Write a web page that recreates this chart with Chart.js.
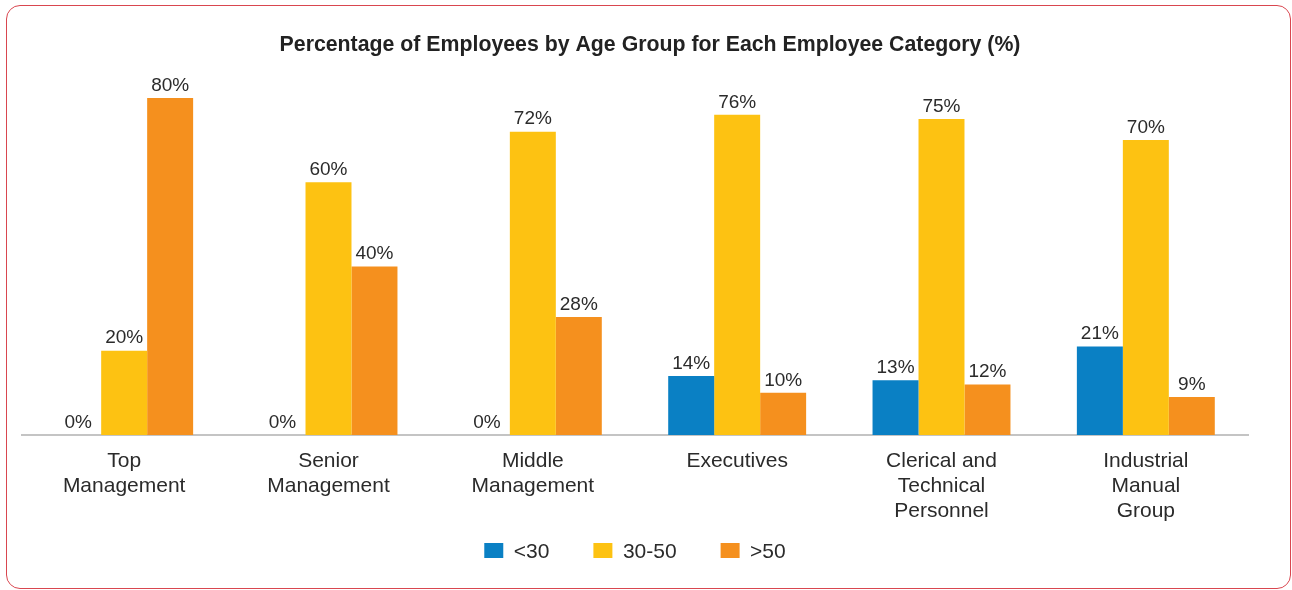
<!DOCTYPE html>
<html>
<head>
<meta charset="utf-8">
<script src="https://cdn.jsdelivr.net/npm/chart.js@4.4.1/dist/chart.umd.min.js"></script>
<style>
  html, body { margin: 0; padding: 0; background: #ffffff; }
  body { width: 1292px; height: 590px; position: relative; overflow: hidden; }
  #frame {
    position: absolute; left: 6px; top: 5px; width: 1285px; height: 584px;
    box-sizing: border-box; border: 1.5px solid #d9464f; border-radius: 14px;
    pointer-events: none;
  }
  #wrap { position: absolute; left: 0; top: 0; width: 1292px; height: 590px; }
</style>
</head>
<body>
<div id="wrap"><canvas id="chart" width="1292" height="590"></canvas></div>
<div id="frame"></div>
<script>
const categories = [
  ['Top', 'Management'],
  ['Senior', 'Management'],
  ['Middle', 'Management'],
  ['Executives'],
  ['Clerical and', 'Technical', 'Personnel'],
  ['Industrial', 'Manual', 'Group']
];
const seriesNames = ['<30', '30-50', '>50'];
const under30 = [0, 0, 0, 14, 13, 21];
const from30to50 = [20, 60, 72, 76, 75, 70];
const over50 = [80, 40, 28, 10, 12, 9];
const titleText = 'Percentage of Employees by Age Group for Each Employee Category (%)';

const FONT = "'Liberation Sans', Arial, Helvetica, sans-serif";
const TEXT = '#2b2b2b';

// Percent labels above every bar
const valueLabels = {
  id: 'valueLabels',
  afterDatasetsDraw(chart) {
    const ctx = chart.ctx;
    ctx.save();
    ctx.font = '19px ' + FONT;
    ctx.fillStyle = TEXT;
    ctx.textAlign = 'center';
    ctx.textBaseline = 'bottom';
    chart.data.datasets.forEach((ds, i) => {
      chart.getDatasetMeta(i).data.forEach((bar, j) => {
        ctx.fillText(ds.data[j] + '%', bar.x, bar.y - 3);
      });
    });
    ctx.restore();
  }
};

// Legend keeps wide horizontal gaps but only a short band at the bottom,
// and its row is pulled up close to the category names.
// The title is centred on the page rather than on the plot.
const LEGEND_BAND = 60;
const LEGEND_TOP = 498;
const TITLE_CENTER = 650;
const blockPlacement = {
  id: 'blockPlacement',
  beforeLayout(chart) {
    const lg = chart.legend;
    if (lg && !lg._bandFixed) {
      const fit = lg.fit;
      lg.fit = function () { fit.call(this); this.height = LEGEND_BAND; };
      lg._bandFixed = true;
    }
  },
  afterLayout(chart) {
    const lg = chart.legend;
    if (lg) {
      lg.top = LEGEND_TOP;
      lg.bottom = LEGEND_TOP + LEGEND_BAND;
    }
    const tb = chart.titleBlock;
    if (tb) {
      tb.left = 2 * TITLE_CENTER - tb.right;
    }
  }
};

new Chart(document.getElementById('chart'), {
  type: 'bar',
  data: {
    labels: categories,
    datasets: [
      { label: seriesNames[0], data: under30, backgroundColor: '#0a80c4' },
      { label: seriesNames[1], data: from30to50, backgroundColor: '#fdc212' },
      { label: seriesNames[2], data: over50, backgroundColor: '#f5901e' }
    ]
  },
  options: {
    responsive: false,
    animation: false,
    devicePixelRatio: 1,
    layout: { padding: { left: 22, right: 44, top: 10, bottom: 0 } },
    datasets: { bar: { categoryPercentage: 0.675, barPercentage: 1, borderWidth: 0 } },
    scales: {
      x: {
        grid: { display: false, drawTicks: false },
        border: { display: true, color: '#c4c4c4', width: 2 },
        ticks: {
          color: TEXT,
          font: { family: FONT, size: 21, lineHeight: 25 / 21 },
          padding: 14,
          maxRotation: 0,
          autoSkip: false
        },
        afterFit(scale) { scale.height = 95; }
      },
      y: { display: false, min: 0, max: 80 }
    },
    plugins: {
      title: {
        display: true,
        text: titleText,
        color: '#222222',
        font: { family: FONT, size: 21.3, weight: 'bold' },
        padding: { top: 22.3, bottom: 40.1 }
      },
      legend: {
        position: 'bottom',
        labels: {
          color: TEXT,
          font: { family: FONT, size: 21 },
          boxWidth: 19,
          boxHeight: 19,
          padding: 44
        }
      },
      tooltip: { enabled: false }
    }
  },
  plugins: [valueLabels, blockPlacement]
});
</script>
</body>
</html>
